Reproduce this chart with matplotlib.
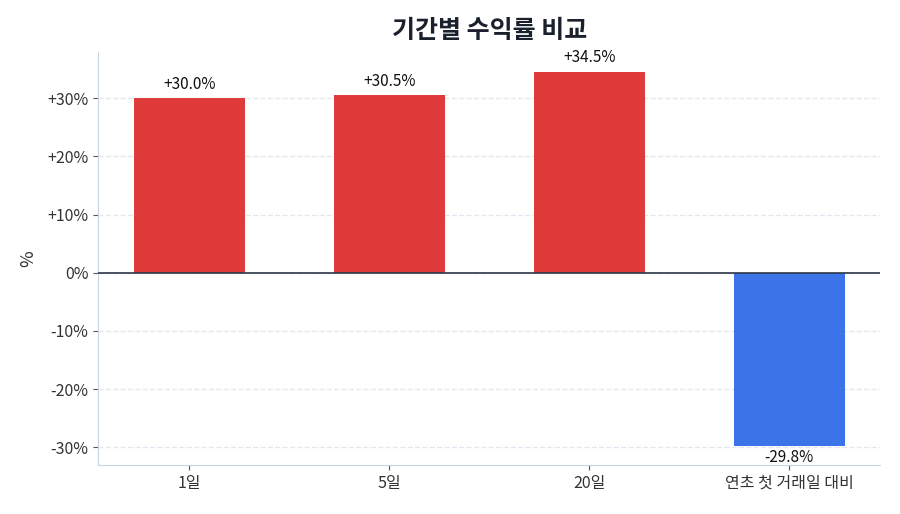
import numpy as np
import matplotlib
matplotlib.use("Agg")
import matplotlib.pyplot as plt
from matplotlib.ticker import FuncFormatter

plt.rcParams['font.family'] = ['Noto Sans CJK KR', 'DejaVu Sans']

periods = ['1일', '5일', '20일', '연초 첫 거래일 대비']
returns = [30.0, 30.5, 34.5, -29.8]
labels = ['+30.0%', '+30.5%', '+34.5%', '-29.8%']

red = '#e03b3b'
blue = '#3b73e8'
colors = [red if v >= 0 else blue for v in returns]

fig, ax = plt.subplots(figsize=(9, 5.14), dpi=100)
x = np.arange(len(periods))
bars = ax.bar(x, returns, 0.555, color=colors, zorder=3)

for b, v, lab in zip(bars, returns, labels):
    cx = b.get_x() + b.get_width() / 2
    if v >= 0:
        ax.annotate(lab, (cx, v), xytext=(0, 4), textcoords='offset points',
                    ha='center', va='bottom', fontsize=11, color='#111111')
    else:
        ax.annotate(lab, (cx, v), xytext=(0, -2), textcoords='offset points',
                    ha='center', va='top', fontsize=11, color='#111111')

ax.axhline(0, color='#2d3748', lw=1.2, zorder=4)
ax.set_ylim(min(returns) * 1.11, max(returns) * 1.1)
ax.set_yticks([-30, -20, -10, 0, 10, 20, 30])
ax.yaxis.set_major_formatter(FuncFormatter(lambda v, p: f'{v:+.0f}%' if v != 0 else '0%'))
ax.set_xticks(x)
ax.set_xticklabels(periods)
ax.tick_params(axis='both', labelsize=11.5, colors='#333333')
ax.tick_params(axis='both', color='#555555')
ax.set_ylabel('%', fontsize=13, color='#333333', labelpad=7)
ax.set_title('기간별 수익률 비교', fontsize=18, fontweight='bold', color='#1a202c', pad=10)

ax.grid(axis='y', linestyle='--', color='#e2e8f0', lw=1, zorder=0)
for s in ['top', 'right']:
    ax.spines[s].set_visible(False)
for s in ['left', 'bottom']:
    ax.spines[s].set_color('#cbd5e0')

plt.subplots_adjust(left=0.109, right=0.978, top=0.899, bottom=0.095)
plt.savefig('out.png', dpi=100)
